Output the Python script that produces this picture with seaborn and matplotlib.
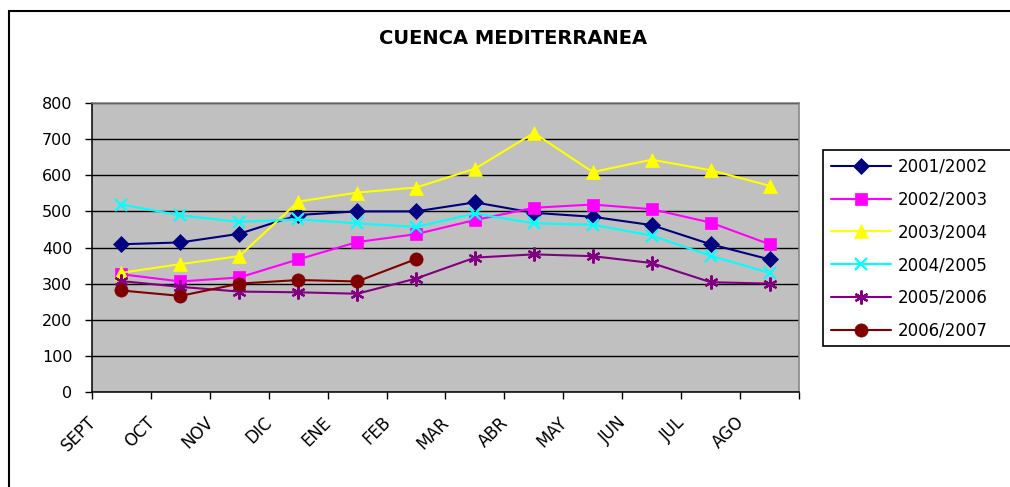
import numpy as np
import pandas as pd
import matplotlib
matplotlib.use("Agg")
import matplotlib.pyplot as plt
from matplotlib.patches import Rectangle
import seaborn as sns

# ---------------- data ----------------
meses = ['SEPT', 'OCT', 'NOV', 'DIC', 'ENE', 'FEB', 'MAR', 'ABR', 'MAY', 'JUN', 'JUL', 'AGO']
temporadas = ['2001/2002', '2002/2003', '2003/2004', '2004/2005', '2005/2006', '2006/2007']
s2001_2002 = [409, 414, 438, 490, 500, 500, 525, 496, 485, 462, 409, 367]
s2002_2003 = [326, 306, 317, 367, 415, 437, 476, 510, 519, 506, 469, 409]
s2003_2004 = [330, 354, 376, 527, 552, 566, 618, 717, 609, 643, 614, 571]
s2004_2005 = [519, 489, 471, 478, 467, 457, 494, 467, 463, 433, 377, 330]
s2005_2006 = [307, 291, 278, 276, 272, 314, 372, 381, 376, 357, 304, 300]
s2006_2007 = [281, 266, 300, 310, 306, 368]
y_ticks = [0, 100, 200, 300, 400, 500, 600, 700, 800]
titulo = 'CUENCA MEDITERRANEA'

series = [s2001_2002, s2002_2003, s2003_2004, s2004_2005, s2005_2006, s2006_2007]

# ---------------- styles ----------------
colores = ['#000080', '#FF00FF', '#FFFF00', '#00FFFF', '#800080', '#800000']
marcadores = ['D', 's', '^', 'x', (6, 2, 0), 'o']
tamanos = [8, 9, 9.5, 9, 10, 9.5]

sns.set_style("white")
plt.rcParams['font.family'] = ['DejaVu Sans']
plt.rcParams['text.color'] = 'black'
plt.rcParams['xtick.color'] = 'black'
plt.rcParams['ytick.color'] = 'black'
plt.rcParams['axes.labelcolor'] = 'black'

W, H = 1010, 487
fig = plt.figure(figsize=(W / 100, H / 100), dpi=100)
fig.patch.set_facecolor('white')

ax = fig.add_axes([92 / W, 1 - 392 / H, (799 - 92) / W, (392 - 103) / H])
ax.set_facecolor('#C0C0C0')

for nombre, vals, c, m, ms in zip(temporadas, series, colores, marcadores, tamanos):
    df = pd.DataFrame({'pos': np.arange(len(vals)), 'valor': vals})
    sns.lineplot(data=df, x='pos', y='valor', ax=ax, color=c, marker=m,
                 markersize=ms, markeredgecolor=c, markerfacecolor=c,
                 markeredgewidth=1.6 if m in ('x', (6, 2, 0)) else 0.5,
                 linewidth=1.5, label=nombre, sort=False, zorder=3)

ax.set_xlim(-0.5, len(meses) - 0.5)
ax.set_ylim(0, 800)
ax.set_yticks(y_ticks)
ax.set_yticklabels([str(v) for v in y_ticks])
ax.yaxis.grid(True, color='black', linewidth=1)
ax.xaxis.grid(False)
ax.set_axisbelow(True)
ax.set_xlabel('')
ax.set_ylabel('')

# category labels near left boundary, tick marks at boundaries
ax.set_xticks(np.arange(len(meses)) - 0.48)
ax.set_xticklabels(meses, rotation=45, ha='right', va='center',
                   rotation_mode='anchor', fontsize=12, color='black')
ax.set_xticks(np.arange(len(meses) + 1) - 0.5, minor=True)
ax.tick_params(axis='x', which='major', length=0, pad=20)
ax.tick_params(axis='x', which='minor', length=5, width=1, color='black',
               direction='out', bottom=True)
ax.tick_params(axis='y', length=5, width=1, color='black', direction='out',
               pad=9, labelsize=11.5, left=True, labelcolor='black')

for s in ['left', 'bottom']:
    ax.spines[s].set_color('black')
    ax.spines[s].set_linewidth(1.1)
for s in ['top', 'right']:
    ax.spines[s].set_color('#808080')
    ax.spines[s].set_linewidth(1.1)

handles, labels = ax.get_legend_handles_labels()
ax.get_legend().remove()

# title
fig.text(513 / W, 1 - 39 / H, titulo, ha='center', va='center',
         fontsize=14, fontweight='bold', color='black')

# outer chart frame
fig.add_artist(Rectangle((9 / W, -0.1), 1.2, 1 - 11 / H + 0.1,
                         transform=fig.transFigure, fill=False,
                         edgecolor='black', linewidth=1.5))

# legend box + legend
fig.add_artist(Rectangle((823 / W, 1 - 346 / H), 0.3, (346 - 150) / H,
                         transform=fig.transFigure, facecolor='white',
                         edgecolor='black', linewidth=1.2))
leg = fig.legend(handles, labels, loc='upper left', bbox_to_anchor=(823 / W, 1 - 150 / H),
                 frameon=False, fontsize=12, handlelength=3.6, handletextpad=0.45,
                 borderpad=0.45, labelspacing=0.89, borderaxespad=0, numpoints=1)
for t in leg.get_texts():
    t.set_color('black')

fig.savefig('out.png', dpi=100)
